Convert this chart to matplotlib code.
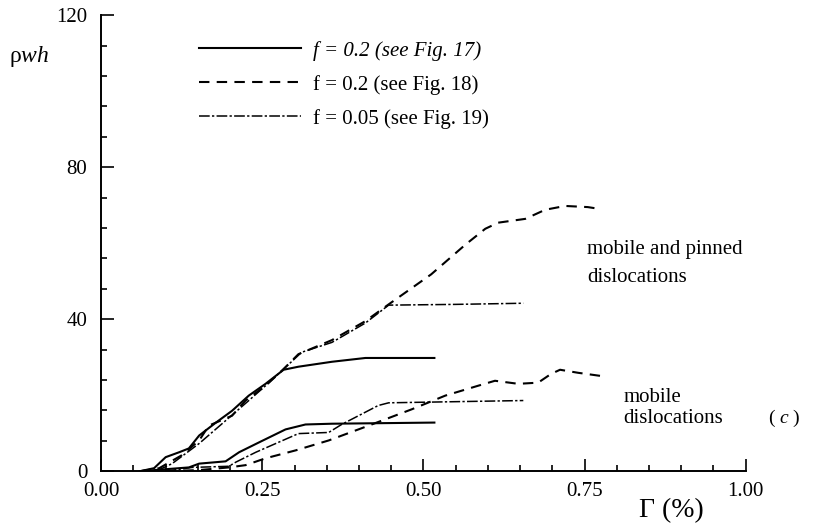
import numpy as np
import matplotlib
matplotlib.use("Agg")
import matplotlib.pyplot as plt

plt.rcParams['font.family'] = ['Liberation Serif', 'DejaVu Serif']
plt.rcParams['mathtext.fontset'] = 'custom'
plt.rcParams['mathtext.rm'] = 'Liberation Serif'
plt.rcParams['mathtext.it'] = 'Liberation Serif:italic'

# f = 0.2 (Fig. 17), solid
g17_tot = [0.06, 0.082, 0.10, 0.121, 0.136, 0.152, 0.178, 0.203, 0.229, 0.255, 0.283, 0.306, 0.358, 0.41, 0.446, 0.517]
r17_tot = [0, 0.8, 3.7, 5, 6, 9.4, 12.8, 15.9, 19.9, 23, 26.7, 27.5, 28.8, 29.8, 29.8, 29.8]
g17_mob = [0.06, 0.136, 0.152, 0.193, 0.214, 0.245, 0.286, 0.317, 0.358, 0.517]
r17_mob = [0, 1, 2, 2.6, 5, 7.6, 11, 12.3, 12.5, 12.8]

# f = 0.2 (Fig. 18), dashed
g18_tot = [0.06, 0.09, 0.125, 0.152, 0.167, 0.203, 0.224, 0.255, 0.28, 0.306, 0.358, 0.41, 0.446,
           0.512, 0.565, 0.596, 0.616, 0.658, 0.689, 0.72, 0.755, 0.774]
r18_tot = [0, 0.8, 4.2, 8.1, 12, 14.6, 18.6, 22.5, 26.4, 30.8, 34.5, 39.5, 43.9,
           51.8, 59.6, 63.8, 65.4, 66.4, 68.8, 69.8, 69.5, 69]
g18_mob = [0.1, 0.152, 0.198, 0.224, 0.255, 0.302, 0.353, 0.415, 0.482, 0.534, 0.585, 0.611,
           0.647, 0.678, 0.698, 0.712, 0.74, 0.774]
r18_mob = [0, 0.3, 1, 1.6, 3.4, 5.5, 8.1, 12, 16.3, 19.9, 22.5, 23.8,
           23, 23.3, 25.6, 26.7, 25.9, 25.1]

# f = 0.05 (Fig. 19), dash-dot
g19_tot = [0.06, 0.085, 0.11, 0.152, 0.193, 0.229, 0.255, 0.28, 0.311, 0.358, 0.41, 0.446, 0.55, 0.655]
r19_tot = [0, 0, 2, 7.3, 13.3, 18.6, 22.5, 26.4, 31.3, 33.9, 39, 43.7, 43.9, 44.2]
g19_mob = [0.1, 0.141, 0.198, 0.209, 0.24, 0.275, 0.306, 0.353, 0.373, 0.43, 0.446, 0.55, 0.655]
r19_mob = [0, 1, 1.3, 2.4, 5, 7.6, 9.9, 10.2, 12.3, 17.3, 18, 18.3, 18.6]

labels = ['f = 0.2 (see Fig. 17)', 'f = 0.2 (see Fig. 18)', 'f = 0.05 (see Fig. 19)']
xticks = [0.0, 0.25, 0.5, 0.75, 1.0]
yticks = [0, 40, 80, 120]

fig = plt.figure(figsize=(8.23, 5.23), dpi=100)
ax = fig.add_axes([0.123, 0.099, 0.783, 0.872])

lw = 1.5
dash = (0, (5, 3.5))
dashdot = (0, (7, 1.5, 1.5, 1.5))
l1, = ax.plot(g17_tot, r17_tot, color='k', lw=lw, ls='-')
ax.plot(g17_mob, r17_mob, color='k', lw=lw, ls='-')
l2, = ax.plot(g18_tot, r18_tot, color='k', lw=lw, ls=dash)
ax.plot(g18_mob, r18_mob, color='k', lw=lw, ls=dash)
l3, = ax.plot(g19_tot, r19_tot, color='k', lw=1.1, ls=dashdot)
ax.plot(g19_mob, r19_mob, color='k', lw=1.1, ls=dashdot)

ax.set_xlim(0, 1)
ax.set_ylim(0, 120)
ax.set_xticks(xticks)
ax.set_xticklabels(['%.2f' % t for t in xticks])
ax.set_xticks(np.arange(0, 1.001, 0.05), minor=True)
ax.set_yticks(yticks)
ax.set_yticklabels([str(t) for t in yticks])
ax.set_yticks(np.arange(0, 120.1, 8), minor=True)
ax.tick_params(which='both', direction='in', width=1.2, labelsize=15, colors='k')
ax.tick_params(axis='x', which='major', length=9, pad=8)
ax.tick_params(axis='y', which='major', length=9, pad=10)
ax.tick_params(which='minor', length=4)
ax.spines['top'].set_visible(False)
ax.spines['right'].set_visible(False)
for s in ['left', 'bottom']:
    ax.spines[s].set_linewidth(1.4)

leg = ax.legend([l1, l2, l3], labels, loc='upper left', bbox_to_anchor=(0.152, 0.944),
                frameon=False, fontsize=15, handlelength=4.9, handletextpad=0.55,
                labelspacing=0.68, borderpad=0, borderaxespad=0)
leg.get_texts()[0].set_style('italic')

ax.text(-0.112, 109, r'ρ$\mathit{wh}$', fontsize=17, ha='center', va='center')
ax.text(0.885, -10.4, 'Γ (%)', fontsize=20, ha='center', va='center')
ax.text(0.754, 58.3, 'mobile and pinned', fontsize=15, ha='left', va='center')
ax.text(0.754, 51.0, 'dislocations', fontsize=15, ha='left', va='center')
ax.text(0.81, 19.3, 'mobile', fontsize=15, ha='left', va='center')
ax.text(0.81, 14.0, 'dislocations', fontsize=15, ha='left', va='center')
ax.text(1.06, 13.8, r'( $\mathit{c}$ )', fontsize=14, ha='center', va='center')

fig.savefig('out.png', dpi=100)
